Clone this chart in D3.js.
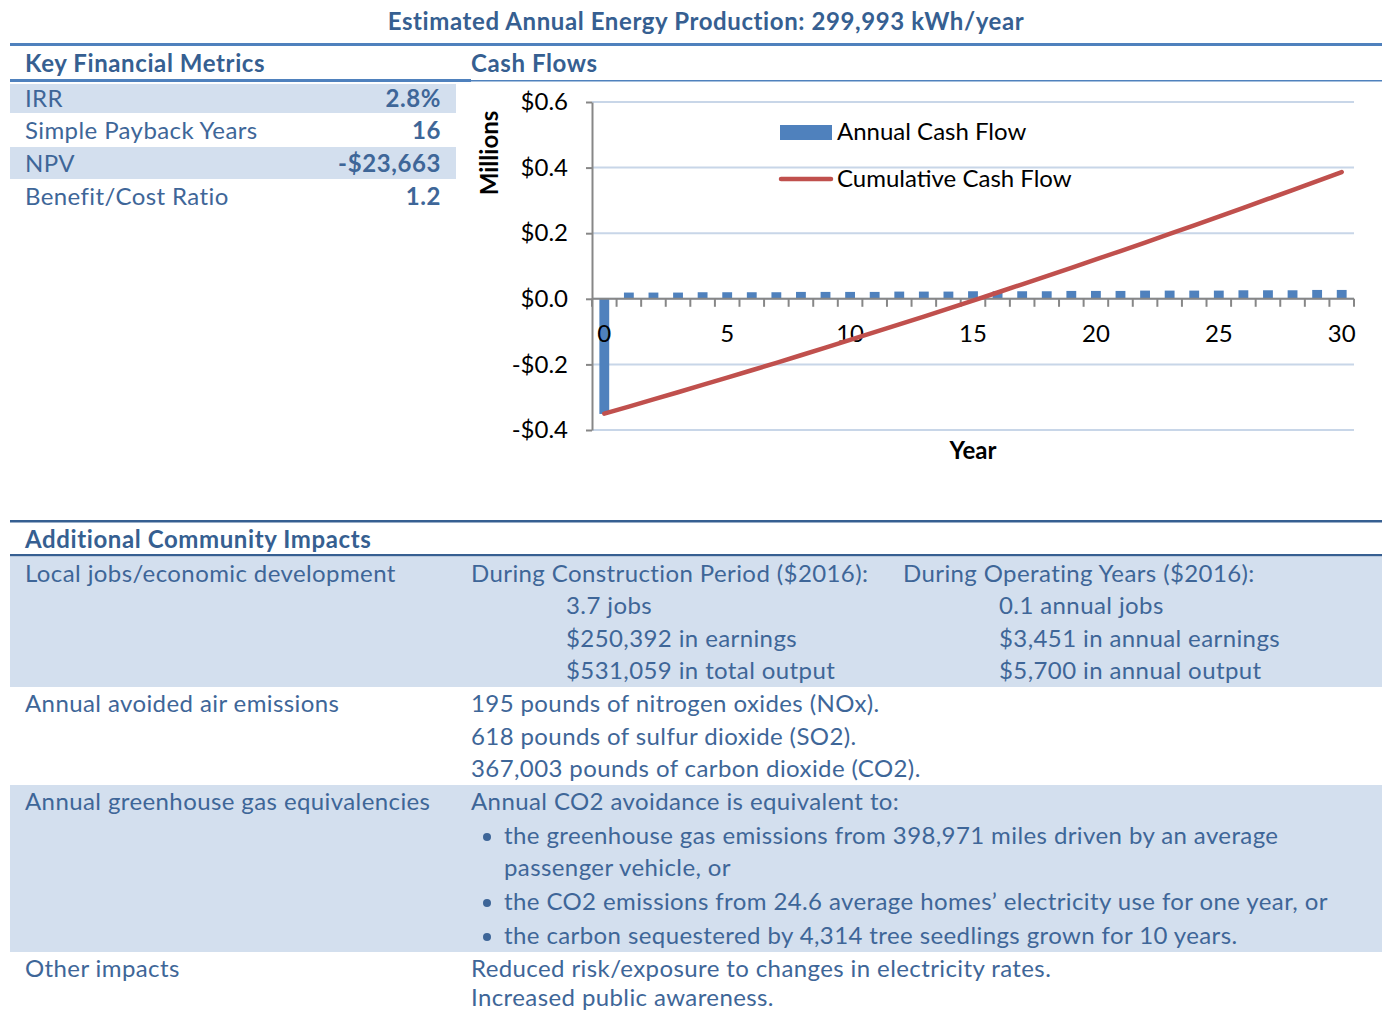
<!DOCTYPE html>
<html>
<head>
<meta charset="utf-8">
<script src="https://cdn.jsdelivr.net/npm/d3@7"></script>
<style>
	body { margin: 0; background: #fff; }
	svg { display: block; }
	.doc { font-family: Lato, "Open Sans", sans-serif; }
</style>
</head>
<body>
<div id="page"></div>
<script>
// ---- data ----
const title = "Estimated Annual Energy Production: 299,993 kWh/year";
const metricLabels = ["IRR", "Simple Payback Years", "NPV", "Benefit/Cost Ratio"];
const metricValues = ["2.8%", "16", "-$23,663", "1.2"];

const years = [0, 1, 2, 3, 4, 5, 6, 7, 8, 9, 10, 11, 12, 13, 14, 15, 16, 17, 18, 19, 20, 21, 22, 23, 24, 25, 26, 27, 28, 29, 30];
// millions of dollars
const annualFlow = [-0.351, 0.019, 0.019, 0.019, 0.020, 0.020, 0.020, 0.020, 0.021, 0.021, 0.021,
	0.021, 0.022, 0.022, 0.022, 0.023, 0.023, 0.023, 0.023, 0.024, 0.024,
	0.024, 0.025, 0.025, 0.025, 0.025, 0.026, 0.026, 0.026, 0.027, 0.027];
const cumulativeFlow = [-0.350, -0.3285, -0.3068, -0.2849, -0.2627, -0.2404, -0.2178, -0.1951, -0.1721, -0.1489, -0.1255,
	-0.1019, -0.0781, -0.0541, -0.0299, -0.0054, 0.0192, 0.0441, 0.0692, 0.0945, 0.1200,
	0.1457, 0.1716, 0.1977, 0.2240, 0.2506, 0.2773, 0.3043, 0.3315, 0.3589, 0.3865];
const yTicks = [-0.4, -0.2, 0, 0.2, 0.4, 0.6];
const xLabelYears = [0, 5, 10, 15, 20, 25, 30];
const seriesNames = ["Annual Cash Flow", "Cumulative Cash Flow"];

const impactLabels = ["Local jobs/economic development", "Annual avoided air emissions", "Annual greenhouse gas equivalencies", "Other impacts"];
const constructionLines = ["During Construction Period ($2016):", "3.7 jobs", "$250,392 in earnings", "$531,059 in total output"];
const operatingLines = ["During Operating Years ($2016):", "0.1   annual jobs", "$3,451 in annual earnings", "$5,700 in annual output"];
const emissionLines = ["195 pounds of nitrogen oxides (NOx).", "618 pounds of sulfur dioxide (SO2).", "367,003 pounds of carbon dioxide (CO2)."];
const equivIntro = "Annual CO2 avoidance is equivalent to:";
const equivBullets = [
	["the greenhouse gas emissions from 398,971 miles driven by an average", "passenger vehicle, or"],
	["the CO2 emissions from 24.6 average homes’ electricity use for one year, or"],
	["the carbon sequestered by 4,314 tree seedlings grown for 10 years."]
];
const otherLines = ["Reduced risk/exposure to changes in electricity rates.", "Increased public awareness."];

// ---- styles ----
const W = 1382, H = 1012;
const blue = "#4f81bd", dark = "#365f91", body = "#3e6698", shade = "#d3dfee";
const docFont = 24;

const svg = d3.select("#page").append("svg")
	.attr("width", W).attr("height", H)
	.attr("class", "doc");

function txt(x, y, s, opts = {}) {
	return svg.append("text")
		.attr("x", x).attr("y", y).attr("dy", "0.35em")
		.attr("font-size", opts.size || docFont)
		.attr("font-weight", opts.bold ? "bold" : "normal")
		.attr("letter-spacing", opts.bold ? 0.6 : 0.4)
		.attr("text-anchor", opts.anchor || "start")
		.attr("fill", opts.color || body)
		.text(s);
}

// title + rules
txt(706, 22, title, { bold: true, color: dark, anchor: "middle" });
svg.append("rect").attr("x", 10).attr("y", 43).attr("width", W - 10).attr("height", 3).attr("fill", blue);

txt(25, 64, "Key Financial Metrics", { bold: true, color: dark });
txt(471, 64, "Cash Flows", { bold: true, color: dark });
svg.append("rect").attr("x", 10).attr("y", 79).attr("width", 461).attr("height", 3).attr("fill", blue);
svg.append("rect").attr("x", 471).attr("y", 80).attr("width", W - 471).attr("height", 1.5).attr("fill", blue);

// metrics table
const rowTop = [84, 114, 147, 180];
metricLabels.forEach((m, i) => {
	if (i % 2 === 0) {
		svg.append("rect").attr("x", 10).attr("y", rowTop[i]).attr("width", 446).attr("height", i === 0 ? 29 : 32).attr("fill", shade);
	}
	const cy = [99, 131, 164, 197][i];
	txt(25, cy, m);
	txt(441, cy, metricValues[i], { bold: true, anchor: "end" });
});

// ---- chart ----
const chartFont = "Lato, sans-serif";
const x = d3.scaleBand().domain(years).range([592, 1354]).padding(0);
const y = d3.scaleLinear().domain([-0.4, 0.6]).range([430, 102]);
const bw = x.bandwidth();

const chart = svg.append("g").attr("font-family", chartFont);

// gridlines
chart.append("g").selectAll("line").data(yTicks).join("line")
	.attr("x1", 592).attr("x2", 1354)
	.attr("y1", d => y(d)).attr("y2", d => y(d))
	.attr("stroke", "#c8d6e8").attr("stroke-width", 2);

// y axis
const yAxis = chart.append("g").attr("transform", "translate(592,0)")
	.call(d3.axisLeft(y).tickValues(yTicks).tickSizeInner(6).tickSizeOuter(0).tickPadding(18)
		.tickFormat(d => (d < 0 ? "-" : "") + "$" + Math.abs(d).toFixed(1)));
yAxis.select(".domain").attr("stroke", "#878787").attr("stroke-width", 2);
yAxis.selectAll(".tick line").attr("stroke", "#878787").attr("stroke-width", 2);
yAxis.selectAll(".tick text").attr("font-size", 24).attr("fill", "#000").attr("font-family", chartFont);

// bars
chart.append("g").selectAll("rect").data(years).join("rect")
	.attr("x", d => x(d) + bw * 0.3)
	.attr("width", bw * 0.4)
	.attr("y", (d, i) => y(Math.max(0, annualFlow[i])))
	.attr("height", (d, i) => Math.abs(y(annualFlow[i]) - y(0)))
	.attr("fill", blue);

// x axis
const xAxisG = chart.append("g").attr("transform", `translate(0,${y(0)})`);
xAxisG.append("line").attr("x1", 592).attr("x2", 1354).attr("stroke", "#878787").attr("stroke-width", 2);
xAxisG.selectAll(".bt").data(years.concat([years.length])).join("line")
	.attr("class", "bt")
	.attr("x1", (d, i) => 592 + i * bw).attr("x2", (d, i) => 592 + i * bw)
	.attr("y1", 0).attr("y2", 8)
	.attr("stroke", "#878787").attr("stroke-width", 2);
xAxisG.selectAll(".xl").data(xLabelYears).join("text")
	.attr("class", "xl")
	.attr("x", d => x(d) + bw / 2).attr("y", 35).attr("dy", "0.35em")
	.attr("text-anchor", "middle").attr("font-size", 24).attr("fill", "#000")
	.text(d => d);

// cumulative line
chart.append("path").datum(years)
	.attr("fill", "none").attr("stroke", "#c0504d").attr("stroke-width", 4.5)
	.attr("stroke-linecap", "round")
	.attr("d", d3.line().x(d => x(d) + bw / 2).y((d, i) => y(cumulativeFlow[i])));

// axis titles
chart.append("text").attr("transform", "translate(490,153) rotate(-90)")
	.attr("text-anchor", "middle").attr("dy", "0.35em")
	.attr("font-size", 24).attr("font-weight", "bold").attr("fill", "#000").text("Millions");
chart.append("text").attr("x", 973).attr("y", 451).attr("dy", "0.35em")
	.attr("text-anchor", "middle").attr("font-size", 24).attr("font-weight", "bold").attr("fill", "#000").text("Year");

// legend
const leg = chart.append("g");
leg.append("rect").attr("x", 780).attr("y", 125).attr("width", 52).attr("height", 15).attr("fill", blue);
leg.append("line").attr("x1", 781).attr("x2", 831).attr("y1", 179).attr("y2", 179)
	.attr("stroke", "#c0504d").attr("stroke-width", 4.5).attr("stroke-linecap", "round");
leg.selectAll("text").data(seriesNames).join("text")
	.attr("x", 837).attr("y", (d, i) => [132, 179][i]).attr("dy", "0.35em")
	.attr("font-size", 24).attr("fill", "#000").text(d => d);

// ---- additional community impacts ----
svg.append("rect").attr("x", 10).attr("y", 520).attr("width", W - 10).attr("height", 2.5).attr("fill", dark);
txt(25, 540, "Additional Community Impacts", { bold: true, color: dark });
svg.append("rect").attr("x", 10).attr("y", 554).attr("width", W - 10).attr("height", 2.5).attr("fill", dark);

svg.append("rect").attr("x", 10).attr("y", 556.5).attr("width", W - 10).attr("height", 130.5).attr("fill", shade);
svg.append("rect").attr("x", 10).attr("y", 785).attr("width", W - 10).attr("height", 167).attr("fill", shade);

const rowY = [574, 606, 639, 671];
txt(25, 574, impactLabels[0]);
constructionLines.forEach((s, i) => txt(i === 0 ? 471 : 566, rowY[i], s));
operatingLines.forEach((s, i) => txt(i === 0 ? 903 : 999, rowY[i], s));

txt(25, 704, impactLabels[1]);
emissionLines.forEach((s, i) => txt(471, [704, 737, 769][i], s));

txt(25, 802, impactLabels[2]);
txt(471, 802, equivIntro);
const bulletY = [[836, 868], [902], [936]];
equivBullets.forEach((lines, i) => {
	svg.append("circle").attr("cx", 487).attr("cy", bulletY[i][0] + 1).attr("r", 4).attr("fill", body);
	lines.forEach((s, j) => txt(504, bulletY[i][j], s));
});

txt(25, 969, impactLabels[3]);
otherLines.forEach((s, i) => txt(471, [969, 998][i], s));
</script>
</body>
</html>
